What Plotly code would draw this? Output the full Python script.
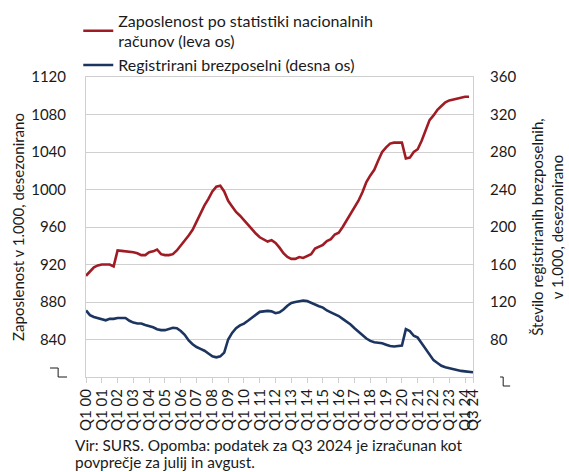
import plotly.graph_objects as go

# Quarterly data Q1 2000 .. Q3 2024
years = list(range(2000, 2025))
quarters = [f"Q{q} {y % 100:02d}" for y in years for q in range(1, 5)][:99]

employment = [908, 913, 917, 919, 920, 920, 920, 918, 935, 934.5, 934, 934, 933, 932, 930, 930,
              933, 934, 936, 931, 930, 930, 931, 935, 940, 945, 951, 957, 966, 975, 983, 990,
              998, 1003, 1004, 998, 988, 982, 976, 972, 967, 963, 958, 953, 949, 947, 944.5, 946,
              943, 938, 932, 928, 926, 926, 928, 927, 929, 931, 937, 939, 941, 945, 947, 952,
              954, 960, 967, 974, 981, 988, 997, 1008, 1015, 1021, 1031, 1040, 1045, 1049, 1050, 1050,
              1050, 1033, 1034, 1040, 1043, 1052, 1063, 1074, 1079, 1085, 1089, 1093, 1095, 1096, 1097, 1098,
              1099, 1099]

unemployed = [111, 106, 104, 103, 102, 100.5, 102, 102, 103, 103, 103, 100, 98, 97, 97, 95.5,
              94.5, 93, 91, 90, 90, 91, 92.5, 92, 89, 85, 79, 75, 72, 70, 68, 65,
              62, 61, 62, 66, 80, 87, 92, 95, 97, 100, 103, 106, 109.5, 110, 110.5, 110,
              108, 109, 112, 116, 119, 120, 120.5, 121.5, 121, 119, 117, 115.5, 114, 111, 109, 107,
              105, 102, 99, 96, 92, 88, 85, 81, 78.5, 77, 76.5, 76, 74.5, 73, 72.5, 73,
              73.5, 91, 89, 84, 82, 76, 70, 64, 58, 55, 52, 50.5, 49.5, 48, 47, 46.5,
              46, 45.5, 45]

tick_idx = list(range(0, 97, 4)) + [98]
tick_text = [quarters[i] for i in tick_idx]
left_ticks = [840, 880, 920, 960, 1000, 1040, 1080, 1120]
right_ticks = [80, 120, 160, 200, 240, 280, 320, 360]

source_lines = ["Vir: SURS. Opomba: podatek za Q3 2024 je izračunan kot",
                "povprečje za julij in avgust."]

RED = "#a01c24"
BLUE = "#1c3560"
GRID = "#cfcfcf"
FONT = "Lato"

fig = go.Figure()
fig.add_trace(go.Scatter(x=list(range(len(employment))), y=employment, mode="lines",
                         name="Zaposlenost po statistiki nacionalnih<br>računov (leva os)",
                         line=dict(color=RED, width=2.6)))
fig.add_trace(go.Scatter(x=list(range(len(unemployed))), y=unemployed, mode="lines",
                         name="Registrirani brezposelni (desna os)", yaxis="y2",
                         line=dict(color=BLUE, width=2.6)))

fig.update_layout(
    width=569, height=472,
    margin=dict(l=86, r=96, t=77, b=95, autoexpand=False),
    paper_bgcolor="white", plot_bgcolor="white",
    font=dict(family=FONT, size=15, color="#1a1a1a"),
    showlegend=True,
    legend=dict(x=-0.02, y=1.245, xanchor="left", yanchor="top", bgcolor="rgba(0,0,0,0)",
                font=dict(size=16), tracegroupgap=0, itemwidth=30),
    xaxis=dict(range=[0, 98], tickvals=tick_idx, ticktext=tick_text, tickangle=-90,
               showgrid=False, showline=True, linecolor=GRID, linewidth=1, mirror=True,
               ticks="outside", ticklen=5, tickcolor=GRID, zeroline=False, automargin=False),
    yaxis=dict(range=[800, 1120], tickvals=left_ticks, showgrid=True, gridcolor=GRID,
               showline=True, linecolor=GRID, mirror=True, zeroline=False, automargin=False,
               ticklabelstandoff=16,
               title=dict(text="Zaposlenost v 1.000, desezonirano", standoff=2, font=dict(size=15))),
    yaxis2=dict(range=[40, 360], tickvals=right_ticks, overlaying="y", side="right",
                showgrid=False, zeroline=False, ticklabelstandoff=16, automargin=False,
                title=dict(text="Število registriranih brezposelnih,<br>v 1.000, desezonirano",
                           standoff=17, font=dict(size=15))),
)

# axis-break marks
fig.add_shape(type="path", xref="paper", yref="paper",
              path="M -0.093 0.03 L -0.072 0.03 L -0.072 0.0 L -0.049 0.0",
              line=dict(color="#1a1a1a", width=1))
fig.add_shape(type="path", xref="paper", yref="paper",
              path="M 1.070 0.0 L 1.078 0.0 L 1.078 -0.03 L 1.096 -0.03",
              line=dict(color="#1a1a1a", width=1))

for txt, ypos in zip(source_lines, [-0.226, -0.2833]):
    fig.add_annotation(xref="paper", yref="paper", x=-0.03, y=ypos, xanchor="left", yanchor="middle",
                       align="left", showarrow=False, borderpad=0, font=dict(size=15.4), text=txt)

fig.write_html("out.html", config={"displayModeBar": False},
               post_script="document.body.style.margin='0px';")
